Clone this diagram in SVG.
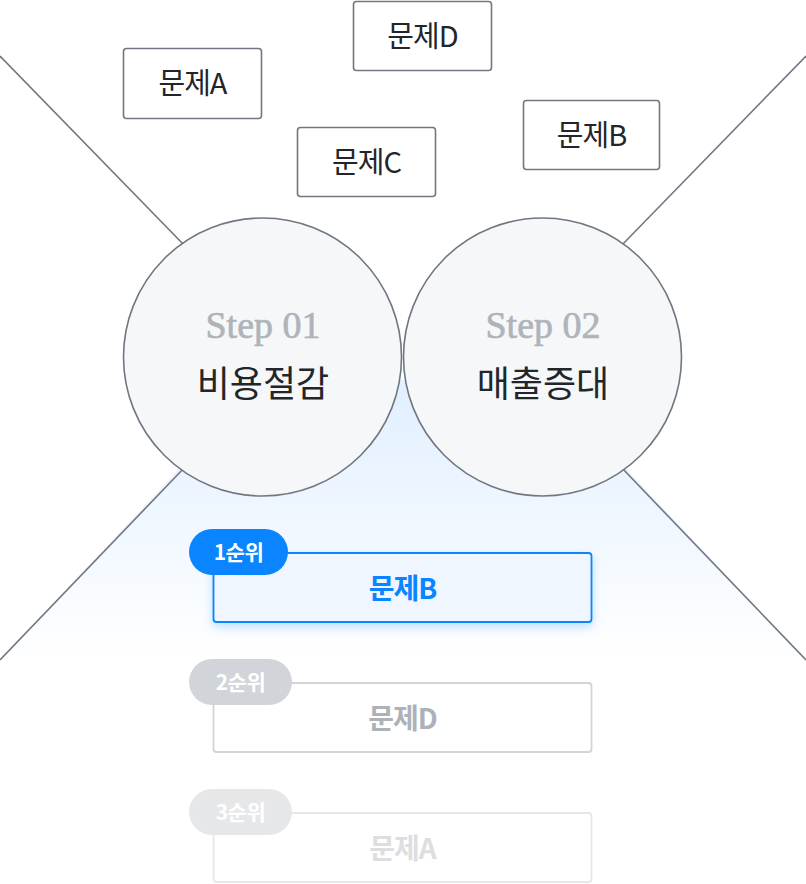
<svg xmlns="http://www.w3.org/2000/svg" width="806" height="884" viewBox="0 0 806 884">
<defs>
<linearGradient id="bg" x1="0" y1="400" x2="0" y2="660" gradientUnits="userSpaceOnUse">
<stop offset="0" stop-color="#e3f0ff"/>
<stop offset="1" stop-color="#ffffff"/>
</linearGradient>
<filter id="glow" x="-20%" y="-40%" width="140%" height="180%">
<feDropShadow dx="0" dy="4" stdDeviation="5" flood-color="#0a84ff" flood-opacity="0.25"/>
</filter>
</defs>
<style>
.ln{stroke:#707780;stroke-width:1.6;fill:none}
.prob rect{fill:#fff;stroke:#707780;stroke-width:1.6}
.prob text{font-family:"Noto Sans CJK KR","Noto Sans",sans-serif;font-size:29px;fill:#222529;text-anchor:middle;letter-spacing:-1px}
.circ circle{fill:#f6f7f9;stroke:#707780;stroke-width:1.6}
.step{font-family:"Liberation Serif","DejaVu Serif",serif;font-size:38px;fill:#aeb4ba;stroke:#aeb4ba;stroke-width:0.7;text-anchor:middle}
.ttl{font-family:"Noto Sans CJK KR",sans-serif;font-size:36px;fill:#22262a;text-anchor:middle}
.pill{font-family:"Noto Sans CJK KR",sans-serif;font-size:21px;font-weight:700;fill:#fff;text-anchor:middle;letter-spacing:-0.5px}
.rk{font-family:"Noto Sans CJK KR",sans-serif;font-size:28px;font-weight:700;text-anchor:middle;letter-spacing:-1px}
</style>
<rect width="806" height="884" fill="#fff"/>
<polygon points="262,380 543,380 806,660 0,660" fill="url(#bg)"/>
<g id="connectors">
<line class="ln" x1="0" y1="56" x2="185" y2="246"/>
<line class="ln" x1="806" y1="56" x2="621" y2="246"/>
<line class="ln" x1="185" y1="467" x2="0" y2="660"/>
<line class="ln" x1="621" y1="467" x2="806" y2="660"/>
</g>
<g id="problemA" class="prob"><rect x="123.5" y="48.5" width="138" height="70" rx="3"/><text x="192.5" y="94">문제A</text></g>
<g id="problemD" class="prob"><rect x="353.5" y="1.5" width="138" height="69" rx="3"/><text x="422.5" y="47">문제D</text></g>
<g id="problemC" class="prob"><rect x="297.5" y="127.5" width="138" height="69" rx="3"/><text x="366.5" y="173">문제C</text></g>
<g id="problemB" class="prob"><rect x="523.5" y="100.5" width="136" height="69" rx="3"/><text x="591.5" y="146">문제B</text></g>
<g id="step1" class="circ"><circle cx="262.5" cy="357" r="139"/><text class="step" x="263" y="338">Step 01</text><text class="ttl" x="263" y="397">비용절감</text></g>
<g id="step2" class="circ"><circle cx="542.5" cy="357" r="139"/><text class="step" x="543" y="338">Step 02</text><text class="ttl" x="543" y="397">매출증대</text></g>
<g id="rank1">
<rect x="213.5" y="553" width="378" height="69" rx="3" fill="#eff6ff" stroke="#0a84ff" stroke-width="1.8" filter="url(#glow)"/>
<rect x="189" y="529" width="99" height="46" rx="23" fill="#0a84ff"/>
<text class="pill" x="238.5" y="560">1순위</text>
<text class="rk" x="402.5" y="599" fill="#0a84ff">문제B</text>
</g>
<g id="rank2">
<rect x="213.5" y="683" width="378" height="69" rx="3" fill="#fff" stroke="#d1d4d8" stroke-width="1.8"/>
<rect x="189" y="659" width="103" height="46" rx="23" fill="#d1d4d8"/>
<text class="pill" x="240.5" y="690">2순위</text>
<text class="rk" x="402.5" y="729" fill="#adb2b8">문제D</text>
</g>
<g id="rank3">
<rect x="213.5" y="813" width="378" height="69" rx="3" fill="#fff" stroke="#e6e7e9" stroke-width="1.8"/>
<rect x="189" y="789" width="103" height="46" rx="23" fill="#e6e7e9"/>
<text class="pill" x="240.5" y="820">3순위</text>
<text class="rk" x="402.5" y="859" fill="#dcdee1">문제A</text>
</g>
</svg>
